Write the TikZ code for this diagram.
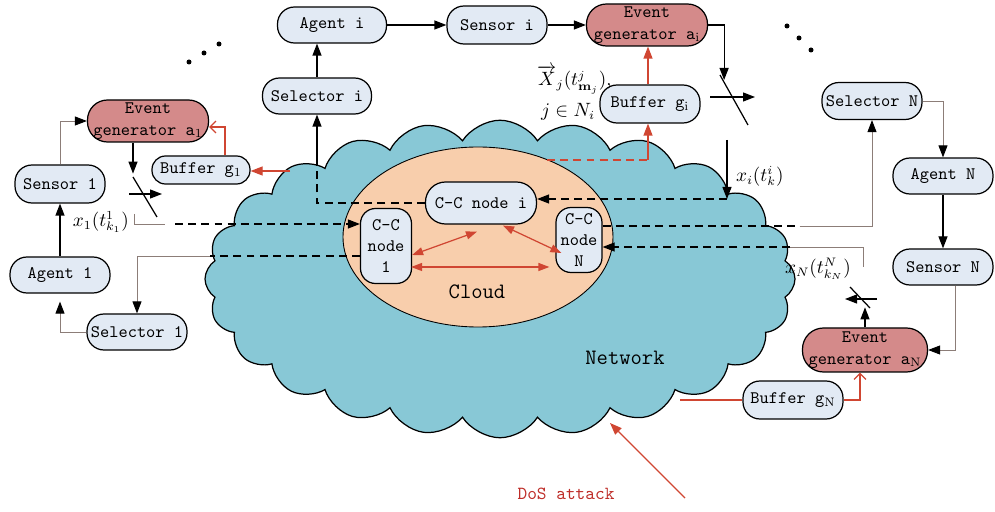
\documentclass[tikz,border=0pt]{standalone}
\usepackage{amsmath,amssymb}
\usetikzlibrary{arrows.meta, shapes.misc, shapes.symbols, shapes.geometric, calc, positioning}

\definecolor{boxblue}{RGB}{226,234,244}
\definecolor{evred}{RGB}{212,138,138}
\definecolor{netblue}{RGB}{136,200,214}
\definecolor{cloudpeach}{RGB}{248,206,172}
\definecolor{linered}{RGB}{208,70,50}
\definecolor{linegray}{RGB}{140,125,120}
\definecolor{dosred}{RGB}{190,45,40}

\tikzset{
  blk/.style={draw=black, line width=0.7pt, fill=boxblue, rectangle, rounded corners=3.4mm, minimum width=20mm, minimum height=7.2mm, inner sep=1pt, align=center, font=\ttfamily\fontsize{10}{12.5}\selectfont},
  evt/.style={blk, fill=evred, rounded corners=4mm, minimum width=24.2mm, minimum height=8.4mm},
  ccn/.style={blk, rounded corners=3mm, font=\ttfamily\fontsize{10}{12.2}\selectfont},
  arr/.style={line width=0.7pt, -{Triangle[length=2.4mm,width=1.8mm]}},
  garr/.style={draw=linegray, line width=0.5pt, -{Triangle[length=2.4mm,width=1.8mm,color=black]}},
  gline/.style={draw=linegray, line width=0.5pt},
  dsh/.style={line width=0.7pt, dash pattern=on 4.5pt off 3pt},
  rline/.style={draw=linered, line width=0.7pt},
  rarr/.style={rline, -{Triangle[length=2.4mm,width=1.8mm]}},
  ropen/.style={rline, -{Straight Barb[length=1.2mm,width=2.4mm]}},
  rdbl/.style={rline, {Triangle[length=2.2mm,width=1.6mm]}-{Triangle[length=2.2mm,width=1.6mm]}},
  lbl/.style={font=\fontsize{10.5}{12}\selectfont, inner sep=1pt},
}

\begin{document}
\begin{tikzpicture}[x=0.2mm, y=-0.2mm]
\useasboundingbox (0,0) rectangle (995,512);

% network cloud and the cloud layer
\node[cloud, cloud puffs=24, cloud puff arc=115, cloud ignores aspect, draw=black, line width=0.7pt, fill=netblue, minimum width=118mm, minimum height=63.5mm] (net) at (500,279) {};
\node[ellipse, draw=black, line width=0.5pt, fill=cloudpeach, minimum width=54mm, minimum height=36mm] (cld) at (478,237) {};
\node[font=\ttfamily\fontsize{12.5}{14}\selectfont] (cldtxt) at (477,292) {Cloud};
\node[font=\ttfamily\fontsize{12.5}{14}\selectfont] (nettxt) at (625,358) {Network};

% C-C nodes
\node[ccn, minimum width=22.2mm, minimum height=8.4mm, rounded corners=4mm] (cci) at (481,203) {C-C node i};
\node[ccn, minimum width=10.2mm, minimum height=15mm] (cc1) at (386,246) {C-C\\node\\1};
\node[ccn, minimum width=9.2mm, minimum height=13mm] (ccN) at (579,240) {C-C\\node\\N};

% agent 1
\node[evt] (ev1) at (148,121) {Event\\generator a$_1$};
\node[blk, minimum width=18mm, minimum height=7.6mm] (sen1) at (60,184) {Sensor 1};
\node[blk] (ag1) at (60,275) {Agent 1};
\node[blk] (sel1) at (137,332) {Selector 1};
\node[blk, minimum width=19.6mm, minimum height=5.6mm, rounded corners=2.7mm] (buf1) at (201,170) {Buffer g$_1$};

% agent i
\node[blk, minimum width=21.8mm] (agi) at (332,25) {Agent i};
\node[blk, minimum height=7.6mm] (seni) at (497,25) {Sensor i};
\node[evt] (evi) at (647,25) {Event\\generator a$_\mathrm{i}$};
\node[blk, minimum width=21.8mm] (seli) at (317,96) {Selector i};
\node[blk, minimum height=7.6mm] (bufi) at (650,104) {Buffer g$_\mathrm{i}$};

% agent N
\node[blk, minimum height=7.4mm] (selN) at (872,101) {Selector N};
\node[blk] (agN) at (943,176) {Agent N};
\node[blk] (senN) at (943,267) {Sensor N};
\node[evt, minimum width=25mm, minimum height=8.8mm, rounded corners=4.2mm] (evN) at (865,350) {Event\\generator a$_\mathrm{N}$};
\node[blk, minimum height=7.6mm] (bufN) at (793,400) {Buffer g$_\mathrm{N}$};

% loop of agent 1
\draw[garr] (sen1.north) |- (ev1.west); % sensor -> event generator
\draw[arr] (ag1.north) -- (sen1.south); % agent -> sensor
\draw[garr, shorten >=1.6mm] (sel1.west) -| (ag1.south); % selector -> agent
\draw[arr] ([xshift=-3mm]ev1.south) -- ++(0,31); % event generator -> switch
\draw[line width=0.7pt] (133,177) -- (157,217); % switch
\draw[arr] (129,194) -- (162,194);
\coordinate (sw1) at (134,214);
\draw[gline] (sw1) -- ++(0,10) -- ++(31,0) coordinate (d1);
\draw[dsh, arr] ($(d1)+(10,0)$) -- (d1 -| cc1.west); % x_1 -> C-C node 1
\node[lbl, anchor=east] (lx1) at (131,222) {$x_1(t^1_{k_1})$};
\draw[dsh] ([yshift=-2mm]cc1.west) -- ++(-150,0) coordinate (d2);
\draw[garr] (d2) -| (sel1.north); % C-C node 1 -> selector 1
\coordinate (b1in) at (290,171);
\draw[rarr] (b1in) -- (b1in -| buf1.east); % network -> buffer
\draw[ropen] ([xshift=4.8mm]buf1.north) |- ([yshift=-1.2mm]ev1.east); % buffer -> event generator

% loop of agent i
\coordinate (d3) at (317,160);
\draw[dsh] (cci.west) -| (d3);
\draw[arr] (d3) -- (seli.south); % C-C node i -> selector i
\draw[arr] (seli.north) -- (seli.north |- agi.south);
\draw[arr] (agi.east) -- (seni.west);
\draw[arr] (seni.east) -- (evi.west);
\coordinate (ri) at (547,160);
\draw[rline, dash pattern=on 4.5pt off 3pt] (ri) -- ++(101,0) coordinate (ri2);
\draw[rarr] (ri2) -- (ri2 |- bufi.south); % network -> buffer i
\draw[rarr] (ri2 |- bufi.north) -- (ri2 |- evi.south); % buffer i -> event generator
\draw[arr] (evi.east) -- ++(16,0) -- ++(0,55);
\draw[line width=0.7pt] (720,75) -- (748,125); % switch
\draw[arr] (710,97) -- (755,97);
\coordinate (swi) at (727,140);
\draw[arr] (swi) -- ++(0,59) coordinate (d4);
\draw[dsh, arr] (d4) -- (d4 -| cci.east); % x_i -> C-C node i
\node[lbl, anchor=west] (lxi) at (734,176) {$x_i(t^i_k)$};
\node[lbl, anchor=west] (lX) at (535,80) {$\overrightarrow{X}_j(t^j_{\mathbf{m}_j})$,};
\node[lbl, anchor=west] (lj) at (539,112) {$j\in N_i$};

% loop of agent N
\draw[garr] (selN.east) -| (agN.north);
\draw[arr] (agN.south) -- (senN.north);
\draw[garr] ([xshift=2.4mm]senN.south) |- (evN.east);
\draw[arr] (evN.north) -- ++(0,-20);
\draw[line width=0.7pt] (850,287) -- (870,308); % switch
\draw[arr] (877,299) -- (845,299);
\coordinate (swN) at (863,267);
\draw[gline] (swN) -- ++(0,-20) -- ++(-73,0) coordinate (d5);
\draw[dsh, arr] (d5) -- (d5 -| ccN.east); % x_N -> C-C node N
\node[lbl, anchor=east] (lxN) at (853,269) {$x_N(t^N_{k_N})$};
\draw[dsh] ([yshift=2.8mm]ccN.east) -- ++(197,0) coordinate (d6);
\draw[garr] (d6) -| (selN.south); % C-C node N -> selector N
\coordinate (rN) at (680,400);
\draw[rline] (rN) -- (bufN.west); % network -> buffer N
\draw[ropen] (bufN.east) -| ([xshift=-1mm]evN.south);

% links between C-C nodes
\draw[rdbl] ([yshift=-1.8mm]cc1.east) -- ($(cci.south)+(-4,7)$);
\draw[rdbl] ($(cci.south)+(22,1)$) -- ($(ccN.west)+(6,13)$);
\draw[rdbl] ($(cc1.east)+(-1,21)$) -- ($(ccN.west)+(-6,27)$);

% DoS attack
\node[text=dosred, font=\ttfamily\fontsize{10.5}{12}\selectfont] (dos) at (566,494) {DoS attack};
\coordinate (dosfrom) at (685,498);
\coordinate (hit) at (610,423);
\draw[rarr] (dosfrom) -- (hit);

% dots
\foreach \p in {(189,62),(204,53),(219,44),(787,26),(799,38),(811,50)}
  \fill \p circle (0.5mm);

\end{tikzpicture}
\end{document}
